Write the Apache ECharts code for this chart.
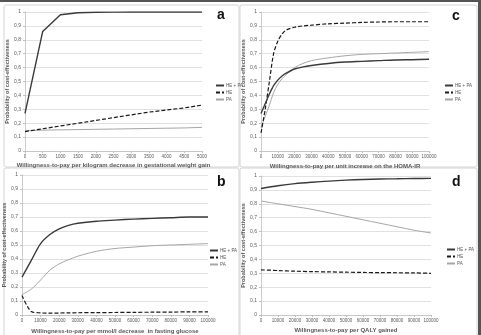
<!DOCTYPE html>
<html>
<head>
<meta charset="utf-8">
<script src="https://cdn.jsdelivr.net/npm/echarts@6/dist/echarts.min.js"></script>
<style>
  html, body { margin: 0; padding: 0; background: #fff; }
  #chart { width: 481px; height: 335px; }
</style>
</head>
<body>
<div id="chart"></div>
<script>
// Panel a: willingness-to-pay per kg decrease in gestational weight gain
const xA = ['0', '500', '1000', '1500', '2000', '2500', '3000', '3500', '4000', '4500', '5000'];
const aHEPA = [0.27, 0.86, 0.98, 0.995, 0.998, 0.999, 1, 1, 1, 1, 1];
const aHE = [0.14, 0.16, 0.18, 0.20, 0.22, 0.24, 0.26, 0.28, 0.295, 0.31, 0.33];
const aPA = [0.145, 0.15, 0.152, 0.154, 0.156, 0.158, 0.16, 0.162, 0.164, 0.166, 0.17];

// Panel c: per unit increase on the HOMA-IR
const xC = [0, 2500, 5000, 7500, 10000, 12500, 15000, 20000, 25000, 30000, 40000, 50000, 60000, 70000, 80000, 90000, 100000];
const cHEPA = [0.27, 0.34, 0.41, 0.47, 0.51, 0.54, 0.56, 0.59, 0.605, 0.615, 0.63, 0.64, 0.645, 0.65, 0.655, 0.657, 0.66];
const cHE = [0.13, 0.3, 0.5, 0.7, 0.79, 0.84, 0.87, 0.89, 0.9, 0.905, 0.915, 0.92, 0.925, 0.928, 0.93, 0.93, 0.93];
const cPA = [0.17, 0.25, 0.33, 0.42, 0.48, 0.52, 0.55, 0.6, 0.63, 0.65, 0.67, 0.685, 0.695, 0.7, 0.705, 0.71, 0.715];

// Panel b: per mmol/l decrease in fasting glucose
const xB = [0, 5000, 10000, 15000, 20000, 25000, 30000, 40000, 50000, 60000, 70000, 80000, 90000, 100000];
const bHEPA = [0.27, 0.39, 0.51, 0.575, 0.615, 0.64, 0.655, 0.67, 0.678, 0.685, 0.69, 0.695, 0.7, 0.7];
const bHE = [0.14, 0.025, 0.015, 0.013, 0.014, 0.015, 0.016, 0.017, 0.018, 0.019, 0.02, 0.021, 0.022, 0.022];
const bPA = [0.145, 0.185, 0.25, 0.32, 0.365, 0.395, 0.42, 0.455, 0.475, 0.485, 0.495, 0.5, 0.505, 0.51];

// Panel d: per QALY gained
const xD = [0, 10000, 20000, 30000, 40000, 50000, 60000, 70000, 80000, 90000, 100000];
const dHEPA = [0.91, 0.93, 0.945, 0.955, 0.963, 0.97, 0.975, 0.978, 0.98, 0.982, 0.983];
const dHE = [0.325, 0.32, 0.315, 0.312, 0.31, 0.308, 0.306, 0.305, 0.304, 0.303, 0.3];
const dPA = [0.82, 0.8, 0.78, 0.76, 0.735, 0.71, 0.685, 0.66, 0.635, 0.61, 0.59];

const seriesNames = ['HE + PA', 'HE', 'PA'];
const yTitle = 'Probability of cost-effectiveness';
const xTitles = [
  'Willingness-to-pay per kilogram decrease in gestational weight gain',
  'Willingness-to-pay per unit increase on the HOMA-IR',
  'Willingness-to-pay per mmol/l decrease  in fasting glucose',
  'Willingness-to-pay per QALY gained'
];

const font = 'Liberation Sans, Arial, sans-serif';
const textColor = '#595959';
const gridColor = '#d9d9d9';
const axisColor = '#bfbfbf';

const grids = [
  { left: 25, top: 12, width: 177, height: 139 },
  { left: 261, top: 12, width: 168, height: 139 },
  { left: 22, top: 175, width: 186, height: 143 },
  { left: 261, top: 176, width: 170, height: 139 }
];

const yFmt = (v) => (v === 0 || v === 1) ? String(v) : v.toFixed(1).replace('.', ',');

const yAxisFor = (i, gap) => ({
  type: 'value',
  gridIndex: i,
  min: 0, max: 1, interval: 0.1,
  name: yTitle,
  nameLocation: 'middle',
  nameGap: gap,
  nameTextStyle: { fontFamily: font, fontSize: 5.5, fontWeight: 'bold', color: textColor },
  axisLabel: { fontFamily: font, fontSize: 5, color: textColor, margin: 4, formatter: yFmt },
  axisLine: { show: true, lineStyle: { color: axisColor, width: 0.8 } },
  axisTick: { show: true, length: 2, lineStyle: { color: axisColor } },
  splitLine: { lineStyle: { color: gridColor, width: 0.8 } }
});

const valueXAxis = (i, gap, title) => ({
  type: 'value',
  gridIndex: i,
  min: 0, max: 100000, interval: 10000,
  name: title,
  nameLocation: 'middle',
  nameGap: gap,
  nameTextStyle: { fontFamily: font, fontSize: 6, fontWeight: 'bold', color: textColor },
  axisLabel: { fontFamily: font, fontSize: 4.5, color: textColor, margin: 3, formatter: (v) => String(v) },
  axisLine: { lineStyle: { color: axisColor, width: 0.8 } },
  axisTick: { show: true, length: 2, lineStyle: { color: axisColor } },
  splitLine: { show: false }
});

const styles = [
  { color: '#3a3a3a', width: 1.4, type: 'solid' },
  { color: '#1a1a1a', width: 1.2, type: [4, 2] },
  { color: '#a6a6a6', width: 1, type: 'solid' }
];

const mkSeries = (i, arrs, xs) => arrs.map((ys, k) => ({
  name: seriesNames[k],
  type: 'line',
  xAxisIndex: i,
  yAxisIndex: i,
  symbol: 'none',
  smooth: xs ? 0.3 : false,
  data: xs ? ys.map((y, j) => [xs[j], y]) : ys,
  lineStyle: styles[k],
  itemStyle: { color: styles[k].color },
  z: 3 - k
}));

const legendFor = (left, top) => ({
  orient: 'vertical',
  left, top,
  itemWidth: 8,
  itemHeight: 6,
  itemGap: 2,
  selectedMode: false,
  itemStyle: { opacity: 0 },
  textStyle: { fontFamily: font, fontSize: 4.5, color: textColor, padding: [0, 0, 0, -3] },
  data: seriesNames
});

const letter = (text, x, y) => ({
  type: 'text', left: x, top: y,
  style: { text, font: 'bold 14px ' + font, fill: '#111' }
});

const panelBox = (x, y, w, h) => ({
  type: 'rect',
  shape: { x, y, width: w, height: h, r: 2 },
  style: { fill: 'none', stroke: '#d4d4d4', lineWidth: 1 }
});

const chart = echarts.init(document.getElementById('chart'));
chart.setOption({
  animation: false,
  backgroundColor: '#fff',
  grid: grids,
  xAxis: [
    {
      type: 'category',
      gridIndex: 0,
      data: xA,
      boundaryGap: false,
      name: xTitles[0],
      nameLocation: 'middle',
      nameGap: 11,
      nameTextStyle: { fontFamily: font, fontSize: 6, fontWeight: 'bold', color: textColor },
      axisLabel: { fontFamily: font, fontSize: 4.5, color: textColor, margin: 3, interval: 0 },
      axisLine: { lineStyle: { color: axisColor, width: 0.8 } },
      axisTick: { show: true, length: 2, lineStyle: { color: axisColor } },
      splitLine: { show: false }
    },
    valueXAxis(1, 12, xTitles[1]),
    valueXAxis(2, 13, xTitles[2]),
    valueXAxis(3, 12, xTitles[3])
  ],
  yAxis: [yAxisFor(0, 13), yAxisFor(1, 14), yAxisFor(2, 14), yAxisFor(3, 15)],
  legend: [
    legendFor(210, 78),
    legendFor(439, 78),
    legendFor(204, 243),
    legendFor(441, 242)
  ],
  graphic: [
    { type: 'rect', shape: { x: 0, y: 0, width: 481, height: 2 }, style: { fill: '#555' } },
    { type: 'rect', shape: { x: 478, y: 0, width: 3, height: 335 }, style: { fill: '#555' } },
    panelBox(4, 5, 235, 162),
    panelBox(240, 5, 237, 162),
    panelBox(4, 168, 235, 170),
    panelBox(240, 168, 237, 170),
    letter('a', 217, 8),
    letter('c', 452, 9),
    letter('b', 217, 175),
    letter('d', 452, 175)
  ],
  series: [
    ...mkSeries(0, [aHEPA, aHE, aPA], null),
    ...mkSeries(1, [cHEPA, cHE, cPA], xC),
    ...mkSeries(2, [bHEPA, bHE, bPA], xB),
    ...mkSeries(3, [dHEPA, dHE, dPA], xD)
  ]
});
</script>
</body>
</html>
